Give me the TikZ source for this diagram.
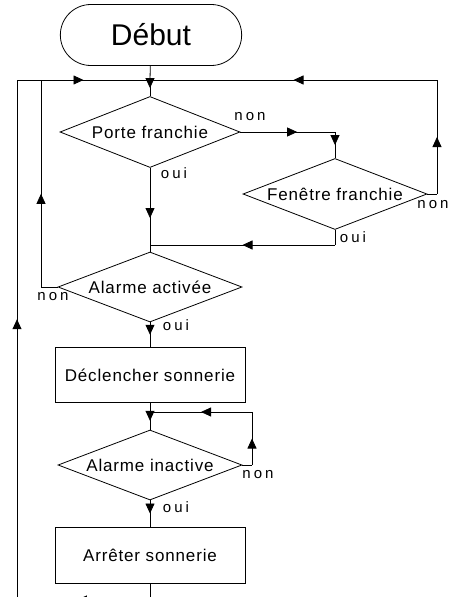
\documentclass[tikz,border=0pt]{standalone}
\usepackage{fontspec}
\setmainfont{Liberation Sans}
\newfontfamily\boite[LetterSpace=5]{Liberation Sans}
\newfontfamily\reponse[LetterSpace=20]{Liberation Sans}
\usetikzlibrary{shapes.geometric,shapes.misc,arrows.meta,decorations.markings}

\begin{document}
\begin{tikzpicture}[x=1pt,y=-1pt,line width=0.8pt,
  fleche/.style={postaction={decorate},decoration={markings,
    mark=at position #1 with {\arrow{Triangle[length=10pt,width=9pt]}}}},
  fleche/.default=0.5,
  test/.style={diamond,draw,inner sep=0pt,minimum width=184pt,minimum height=71pt,
    label={[font=\boite\fontsize{17}{17}\selectfont]center:#1}},
  action/.style={rectangle,draw,minimum width=190pt,minimum height=55pt,font=\boite\fontsize{17}{17}\selectfont},
  rep/.style={inner sep=0pt,font=\reponse\fontsize{15}{15}\selectfont}
]
\useasboundingbox (0,0) rectangle (448,597);
% blocs
\node[rounded rectangle,draw,minimum width=188pt,minimum height=61pt,font=\fontsize{30}{30}\selectfont] (debut) at (151,35) {Début};
\node[test=Porte franchie,minimum width=180pt] (porte) at (150,132) {};
\node[test=Fenêtre franchie] (fenetre) at (335,194) {};
\node[test=Alarme activée,minimum height=70pt] (activee) at (150,287) {};
\node[action] (declencher) at (150,375) {Déclencher sonnerie};
\node[test=Alarme inactive,minimum height=70pt] (inactive) at (150,465) {};
\node[action,minimum height=56pt] (arreter) at (150,555) {Arrêter sonnerie};
% points de passage
\coordinate (hautG) at (17,80);
\coordinate (hautB) at (41,80);
\coordinate (hautM) at (150,80);
\coordinate (hautD) at (437,80);
\coordinate (nonP) at (335,132);
\coordinate (nonF) at (437,194);
\coordinate (ouiF) at (335,245);
\coordinate (joint) at (150,245);
\coordinate (nonA) at (41,287);
\coordinate (boucle) at (150,412);
\coordinate (nonI) at (252,465);
\coordinate (coinI) at (252,412);
\coordinate (basM) at (150,600);
\coordinate (basG) at (17,600);
% liaisons
\draw (debut) -- (hautM);
\draw[fleche] (hautM) -- (porte.north);
\draw[fleche] (hautG) -- (hautM);
\draw[fleche] (hautD) -- (hautM);
\draw[fleche=0.6] (porte.east) -- (nonP);
\draw[fleche] (nonP) -- (fenetre.north);
\draw (fenetre.east) -- (nonF);
\draw[fleche] (nonF) -- (hautD);
\draw (fenetre.south) -- (ouiF);
\draw[fleche] (ouiF) -- (joint);
\draw[fleche=0.65] (porte.south) -- (joint);
\draw (joint) -- (activee.north);
\draw (activee.west) -- (nonA);
\draw[fleche=0.45] (nonA) -- (hautB);
\draw[fleche] (activee.south) -- (declencher.north);
\draw (declencher.south) -- (boucle);
\draw[fleche] (boucle) -- (inactive.north);
\draw (inactive.east) -- (nonI);
\draw[fleche] (nonI) -- (coinI);
\draw[fleche] (coinI) -- (boucle);
\draw[fleche] (inactive.south) -- (arreter.north);
\draw (arreter.south) -- (basM);
\draw[fleche=0.55] (basM) -- (basG);
\draw[fleche=0.54] (basG) -- (hautG);
% reponses
\node[rep] at (250,117) {non};
\node[rep] at (174,173) {oui};
\node[rep] at (433,205) {non};
\node[rep] at (353,237) {oui};
\node[rep] at (53,297) {non};
\node[rep] at (176,325) {oui};
\node[rep] at (258,475) {non};
\node[rep] at (176,507) {oui};
\end{tikzpicture}
\end{document}
